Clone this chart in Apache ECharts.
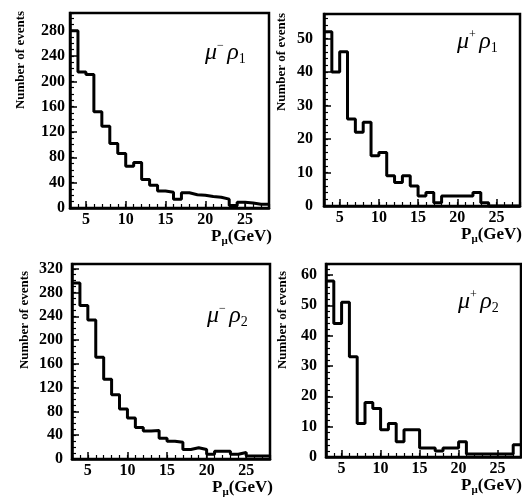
<!DOCTYPE html>
<html><head><meta charset="utf-8">
<script src="https://cdn.jsdelivr.net/npm/echarts@6/dist/echarts.min.js"></script>
<style>html,body{margin:0;padding:0;background:#fff}#c{width:522px;height:498px}</style>
</head><body><div id="c"></div>
<script>
// Bin edges (GeV) shared by all four histograms
const binEdges = [3,4,5,6,7,8,9,10,11,12,13,14,15,16,17,18,19,20,21,22,23,24,25,26,27,28];
// Event counts per 1-GeV bin
const muMinusRho1 = [280,215,211,152,129,102,86,66,72,45,36,27,25,14,24,21,20,18,17,14,4,9,8,6,6];
const muPlusRho1  = [52,40,46,26,22,25,15,16,9,7,9,6,3,4,1,3,3,3,3,4,1,0,0,0,0];
const muMinusRho2 = [296,258,234,171,134,108,84,69,53,47,48,35,30,28,16,19,16,8,13,13,8,11,5,5,5];
const muPlusRho2  = [58,44,51,33,11,18,16,9,11,5,9,9,3,3,2,3,3,5,1,1,1,1,1,1,4];
// Tick labels
const xTickLabels = [5,10,15,20,25];
const yTicksMuMinusRho1 = [0,40,80,120,160,200,240,280];
const yTicksMuPlusRho1 = [0,10,20,30,40,50];
const yTicksMuMinusRho2 = [0,40,80,120,160,200,240,280,320];
const yTicksMuPlusRho2 = [0,10,20,30,40,50,60];
const yAxisTitle = 'Number of events';

const SERIF = '"Liberation Serif","Times New Roman",serif';

const panels = [
  {vals: muMinusRho1, yt: yTicksMuMinusRho1, ymax: 308, minor: 10, rect:{left:70, top:13, width:199, height:195}, lm:5,
   sup:'−', sub:'1', ann:[205,53], yname:[21,60]},
  {vals: muPlusRho1, yt: yTicksMuPlusRho1, ymax: 57.3, minor: 2, rect:{left:324, top:14, width:196, height:192}, lm:11,
   sup:'+', sub:'1', ann:[457,42], yname:[282,62]},
  {vals: muMinusRho2, yt: yTicksMuMinusRho2, ymax: 328, minor: 10, rect:{left:72, top:264, width:198, height:195}, lm:9,
   sup:'−', sub:'2', ann:[207,316], yname:[25,320]},
  {vals: muPlusRho2, yt: yTicksMuPlusRho2, ymax: 63.6, minor: 2, rect:{left:326, top:264, width:195, height:193}, lm:9,
   sup:'+', sub:'2', ann:[458,302], yname:[283,320]}
];

function histData(vals){
  const d = vals.map((v,i)=>[binEdges[i], v]);
  d.push([binEdges[vals.length], vals[vals.length-1]]);
  return d;
}

const grid=[], xAxis=[], yAxis=[], series=[], graphic=[];
panels.forEach((p, k)=>{
  const gMaj = grid.length;
  grid.push(Object.assign({show:true, borderColor:'#000', borderWidth:2.5, backgroundColor:'transparent', containLabel:false}, p.rect));
  const gMin = grid.length;
  grid.push(Object.assign({show:false, containLabel:false}, p.rect));
  const lab = {color:'#000', fontFamily:SERIF, fontWeight:'bold', fontSize:16};
  xAxis.push({type:'value', gridIndex:gMaj, min:binEdges[0], max:binEdges[binEdges.length-1],
    axisLine:{show:true, lineStyle:{color:'#000', width:2.5}},
    axisTick:{show:true, inside:true, length:7, lineStyle:{color:'#000', width:1.5}, customValues:xTickLabels},
    axisLabel:Object.assign({show:true, margin:4, customValues:xTickLabels}, lab),
    splitLine:{show:false}});
  xAxis.push({type:'value', gridIndex:gMin, min:binEdges[0], max:binEdges[binEdges.length-1], interval:1,
    axisLine:{show:false}, axisTick:{show:true, inside:true, length:4, lineStyle:{color:'#000', width:1.2}},
    axisLabel:{show:false}, splitLine:{show:false}});
  yAxis.push({type:'value', gridIndex:gMaj, min:0, max:p.ymax,
    axisLine:{show:true, lineStyle:{color:'#000', width:2.5}},
    axisTick:{show:true, inside:true, length:7, lineStyle:{color:'#000', width:1.5}, customValues:p.yt},
    axisLabel:Object.assign({show:true, margin:p.lm, customValues:p.yt}, lab),
    splitLine:{show:false}});
  yAxis.push({type:'value', gridIndex:gMin, min:0, max:p.ymax, interval:p.minor,
    axisLine:{show:false}, axisTick:{show:true, inside:true, length:4, lineStyle:{color:'#000', width:1.2}},
    axisLabel:{show:false}, splitLine:{show:false}});
  series.push({type:'line', step:'end', xAxisIndex:gMaj, yAxisIndex:gMaj, data:histData(p.vals),
    symbol:'none', clip:false, silent:true, lineStyle:{color:'#000', width:3}});
  // y axis title
  graphic.push({type:'text', x:p.yname[0], y:p.yname[1], rotation:Math.PI/2, silent:true,
    style:{text:yAxisTitle, font:'bold 13px '+SERIF, fill:'#000', align:'center', verticalAlign:'middle', textAlign:'center', textVerticalAlign:'middle'}});
  // x axis title
  const right = p.rect.left + p.rect.width;
  graphic.push({type:'text', x:Math.min(right+3, 522), y:p.rect.top+p.rect.height+29, silent:true,
    style:{text:'{p|P}{s|μ}{p|(GeV)}', fill:'#000', align:'right', verticalAlign:'middle', textAlign:'right', textVerticalAlign:'middle',
      rich:{p:{fontFamily:SERIF, fontWeight:'bold', fontSize:17, lineHeight:20},
            s:{fontFamily:SERIF, fontWeight:'bold', fontSize:11, lineHeight:11, verticalAlign:'bottom'}}}});
  // annotation
  graphic.push({type:'text', x:p.ann[0], y:p.ann[1], silent:true,
    style:{text:'{m|μ}{s|'+p.sup+'}{sp| }{m|ρ}{b|'+p.sub+'}', fill:'#000', align:'left', verticalAlign:'middle', textAlign:'left', textVerticalAlign:'middle',
      rich:{m:{fontFamily:SERIF, fontStyle:'italic', fontSize:24, lineHeight:26},
            s:{fontFamily:SERIF, fontSize:12, lineHeight:12, verticalAlign:'top'},
            sp:{fontFamily:SERIF, fontSize:14, lineHeight:14},
            b:{fontFamily:SERIF, fontSize:14, lineHeight:14, verticalAlign:'bottom'}}}});
});

const chart = echarts.init(document.getElementById('c'), null, {renderer:'canvas'});
chart.setOption({animation:false, backgroundColor:'#fff', grid, xAxis, yAxis, series, graphic});
</script></body></html>
